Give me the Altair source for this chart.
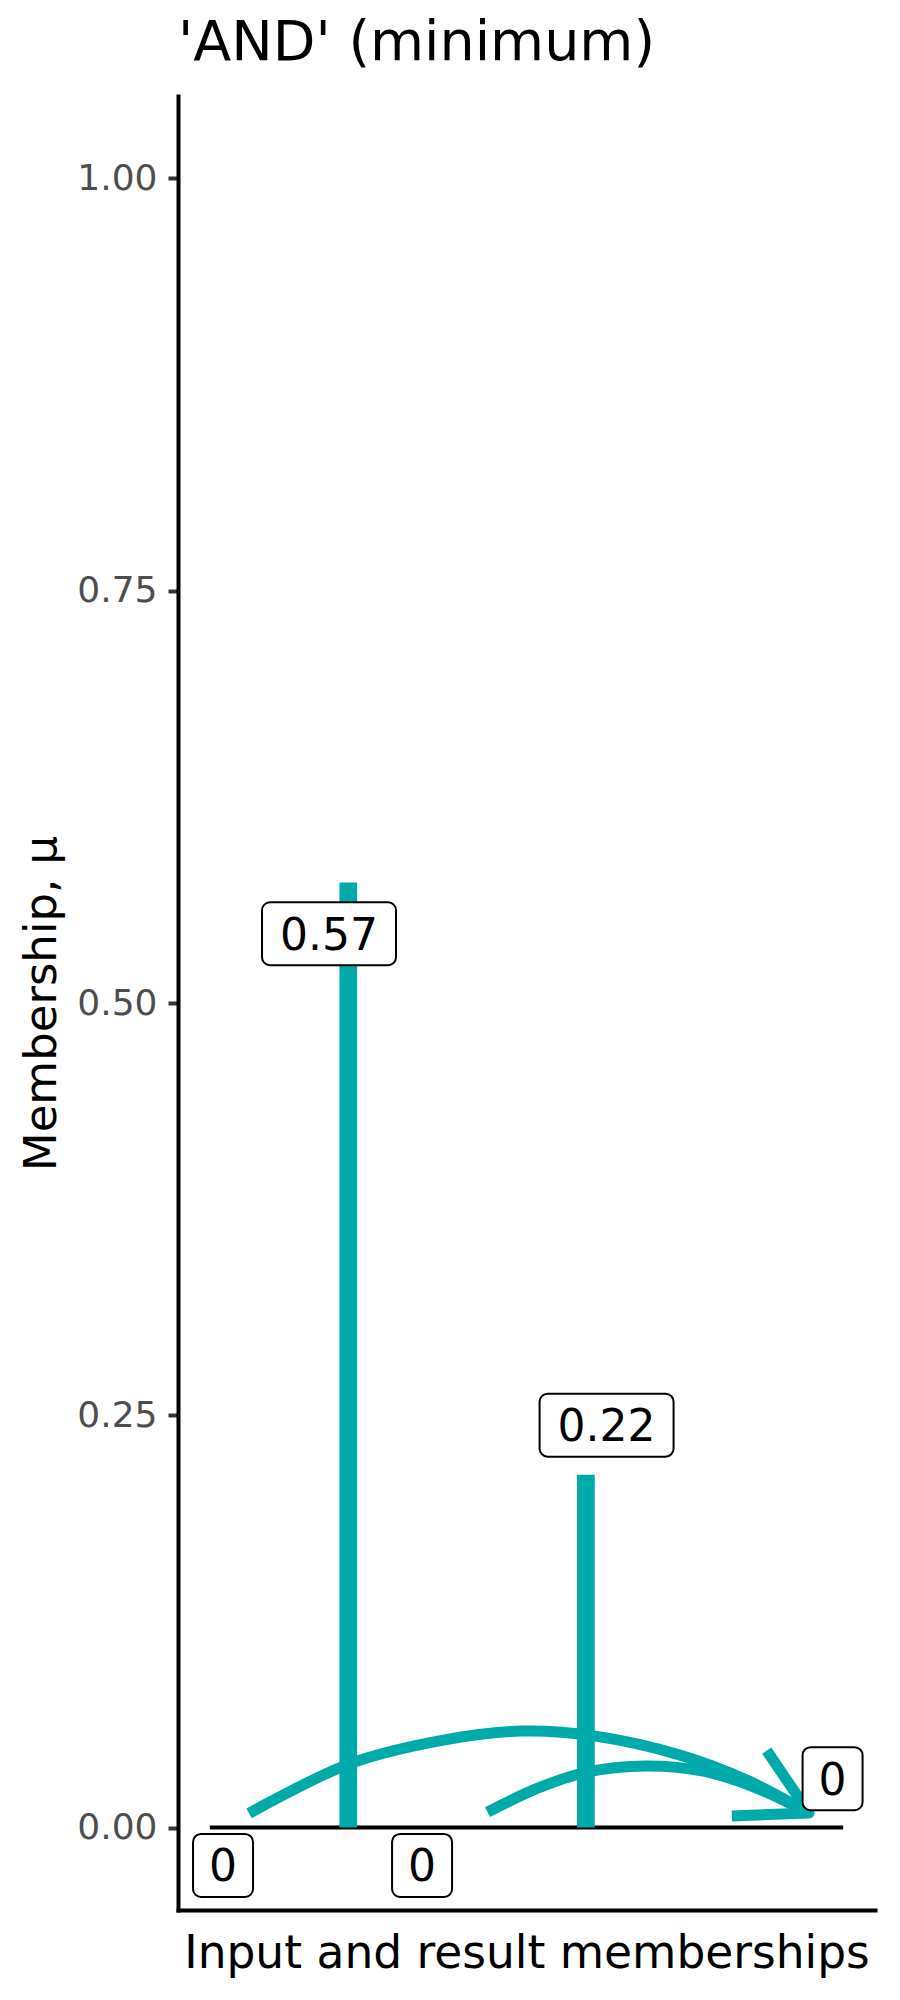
import altair as alt
import pandas as pd

# ---- data ----
item_x = [1, 2, 3, 4, 6]
item_mu = [0.0, 0.573, 0.0, 0.214, 0.0]

label_text = ["0", "0.57", "0", "0.22", "0"]
label_x = [0.946, 1.838, 2.621, 4.174, 6.076]
label_y = [-0.023, 0.542, -0.023, 0.244, 0.0296]

base_x = [0.835]
base_x2 = [6.165]
base_y = [0.0]

curve1_x = [1.165, 2.005, 2.8, 3.463, 4.094, 4.79, 5.354, 5.878]
curve1_y = [0.0086, 0.0385, 0.053, 0.0585, 0.0553, 0.044, 0.0288, 0.0088]
curve2_x = [3.172, 3.6, 4.0, 4.5, 5.0, 5.4, 5.878]
curve2_y = [0.0093, 0.024, 0.0335, 0.0373, 0.034, 0.025, 0.0088]

arrow_x = [5.522, 5.878, 5.228]
arrow_y = [0.0466, 0.0088, 0.007]

TEAL = "#00AAAA"
FONT = "DejaVu Sans"

items = pd.DataFrame({"x": item_x, "mu": item_mu, "zero": [0.0] * len(item_x)})
labels = pd.DataFrame({"x": label_x, "y": label_y, "text": label_text})
labels["n"] = labels["text"].str.len()
base = pd.DataFrame({"x": base_x, "x2": base_x2, "y": base_y})
curves = pd.concat([
    pd.DataFrame({"x": curve1_x, "y": curve1_y, "curve": "c1"}),
    pd.DataFrame({"x": curve2_x, "y": curve2_y, "curve": "c2"}),
])
arrow = pd.DataFrame({"x": arrow_x, "y": arrow_y, "o": list(range(len(arrow_x)))})

xs = alt.Scale(domain=[0.567, 6.433], nice=False, zero=False)
ys = alt.Scale(domain=[-0.05, 1.05], nice=False, zero=False)

x_axis = alt.Axis(
    title="Input and result memberships", ticks=False, labels=False, grid=False,
    domainColor="black", domainWidth=4, domainCap="square",
    titleFontSize=45.5, titleFont=FONT, titleColor="black", titleFontWeight="normal",
    titleBaseline="alphabetic", titleY=57,
)
y_axis = alt.Axis(
    title="Membership, μ", values=[0, 0.25, 0.5, 0.75, 1.0], format=".2f", grid=False,
    domainColor="black", domainWidth=4, domainCap="square",
    tickColor="#333333", tickWidth=4, tickSize=10, labelPadding=11,
    labelFontSize=36, labelColor="#4D4D4D", labelFont=FONT,
    titleFontSize=45, titleFont=FONT, titleColor="black", titleFontWeight="normal",
    titleAngle=270, titleBaseline="alphabetic", titleX=-123, titleY=907, titleAlign="center",
)

X = lambda f: alt.X(f, type="quantitative", scale=xs, axis=x_axis)
Y = lambda f: alt.Y(f, type="quantitative", scale=ys, axis=y_axis)

zero_line = alt.Chart(base).mark_rule(color="black", strokeWidth=4).encode(
    x=X("x"), x2="x2", y=Y("y")
)

bars = alt.Chart(items).transform_filter("datum.mu > 0").mark_rule(
    color=TEAL, strokeWidth=17.7, strokeCap="butt"
).encode(x=X("x"), y=Y("zero"), y2="mu")

curve_lines = alt.Chart(curves).mark_line(
    color=TEAL, strokeWidth=11, strokeCap="butt", interpolate="catmull-rom"
).encode(x=X("x"), y=Y("y"), detail="curve:N")

arrow_head = alt.Chart(arrow).mark_line(
    color=TEAL, strokeWidth=11, strokeCap="butt", strokeJoin="round"
).encode(x=X("x"), y=Y("y"), order="o:Q")

box_style = dict(fill="white", stroke="black", strokeWidth=2, cornerRadius=8)
boxes_narrow = alt.Chart(labels).transform_filter("datum.n == 1").mark_rect(
    xOffset=-30, x2Offset=30, yOffset=-31.5, y2Offset=31.5, **box_style
).encode(x=X("x"), x2="x", y=Y("y"), y2="y")
boxes_wide = alt.Chart(labels).transform_filter("datum.n > 1").mark_rect(
    xOffset=-67, x2Offset=67, yOffset=-31.5, y2Offset=31.5, **box_style
).encode(x=X("x"), x2="x", y=Y("y"), y2="y")

texts = alt.Chart(labels).mark_text(
    font=FONT, fontSize=44, color="black", baseline="middle", align="center", dy=3
).encode(x=X("x"), y=Y("y"), text="text:N")

chart = alt.layer(
    zero_line, bars, curve_lines, arrow_head, boxes_narrow, boxes_wide, texts
).properties(
    width=697, height=1814,
    autosize=alt.AutoSizeParams(type="none"),
    padding={"left": 170, "top": 88, "right": 17, "bottom": 82},
    background="white",
    title=alt.TitleParams(
        text="'AND' (minimum)", anchor="start", frame="group", fontSize=55.5,
        font=FONT, fontWeight="normal", color="black", baseline="alphabetic",
        offset=31, dy=50,
    ),
).configure_view(strokeWidth=0)

chart.save("out.html", embed_options={"renderer": "svg", "actions": False})
